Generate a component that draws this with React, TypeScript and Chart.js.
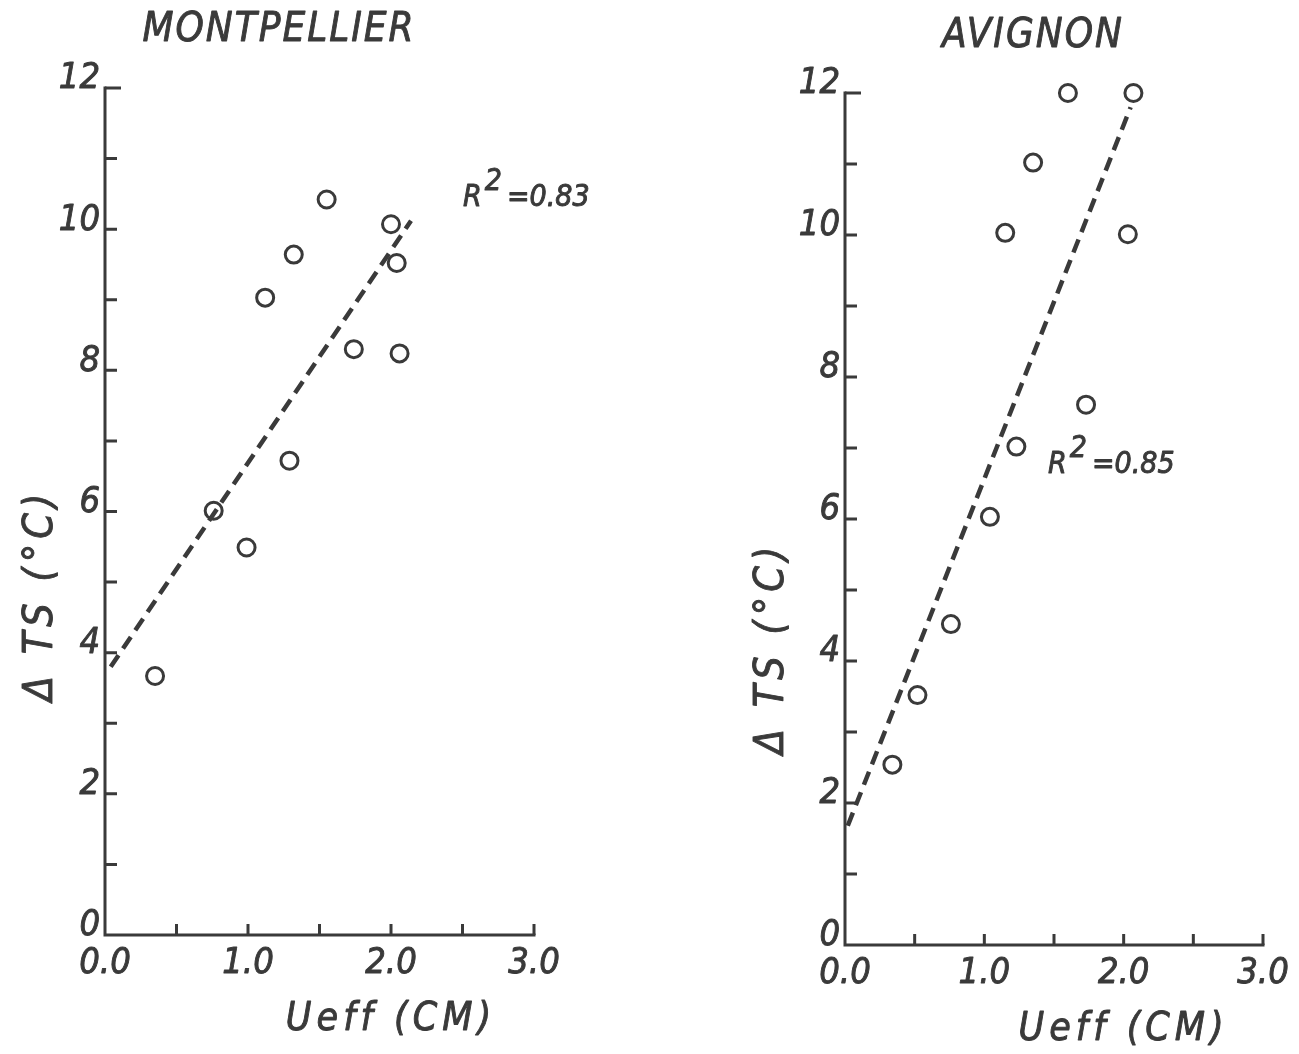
import React, { useEffect, useRef } from "react";
import { Chart, registerables } from "chart.js";

Chart.register(...registerables);

// ---------- data ----------
const montpellierX = [0.35, 0.76, 0.99, 1.12, 1.29, 1.32, 1.55, 1.74, 2.0, 2.04, 2.06];
const montpellierY = [3.67, 6.01, 5.49, 9.03, 6.72, 9.64, 10.42, 8.3, 10.07, 9.52, 8.24];
const montpellierFitX = [0.04, 2.14];
const montpellierFitY = [3.8, 10.12];

const avignonX = [0.34, 0.52, 0.76, 1.04, 1.23, 1.15, 1.35, 1.6, 1.73, 2.03, 2.07];
const avignonY = [2.54, 3.52, 4.52, 6.03, 7.02, 10.03, 11.02, 12.0, 7.61, 10.01, 12.0];
const avignonFitX = [0.02, 2.05];
const avignonFitY = [1.68, 11.8];

const xTickValues = [0, 0.5, 1, 1.5, 2, 2.5, 3];
const xLabelValues = [0, 1, 2, 3];
const xLabelTexts = ["0.0", "1.0", "2.0", "3.0"];
const yTickValues = [1, 2, 3, 4, 5, 6, 7, 8, 9, 10, 11, 12];
const yLabelValues = [0, 2, 4, 6, 8, 10, 12];
const yLabelTexts = ["0", "2", "4", "6", "8", "10", "12"];

const titles = ["MONTPELLIER", "AVIGNON"];
const r2Texts = ["0.83", "0.85"];
const xAxisTitle = "Ueff (CM)";
const yAxisTitle = "\u0394 TS (\u00B0C)";

// ---------- style ----------
const INK = "#3a3a3a";
const FAMILY = '"DejaVu Sans Condensed", "DejaVu Sans", sans-serif';

type PanelCfg = {
  width: number;
  left: number;
  padding: { left: number; right: number; top: number; bottom: number };
  title: string;
  titleX: number;
  titleY: number;
  yTitleX: number;
  yTitleY: number;
  r2: string;
  r2X: number;
  r2Y: number;
  xs: number[];
  ys: number[];
  fitX: number[];
  fitY: number[];
};

function inkText(ctx: CanvasRenderingContext2D, s: string, x: number, y: number) {
  ctx.fillText(s, x, y);
  ctx.strokeText(s, x, y);
}

function makePlugin(cfg: PanelCfg) {
  return {
    id: "paperAxes",
    afterDraw(chart: any) {
      const ctx: CanvasRenderingContext2D = chart.ctx;
      const xs = chart.scales.x;
      const ys = chart.scales.y;
      const x0 = xs.getPixelForValue(0);
      const x3 = xs.getPixelForValue(3);
      const y0 = ys.getPixelForValue(0);
      const y12 = ys.getPixelForValue(12);
      ctx.save();
      ctx.strokeStyle = INK;
      ctx.fillStyle = INK;
      ctx.lineWidth = 3;
      ctx.lineCap = "square";
      ctx.beginPath();
      ctx.moveTo(x0, y12);
      ctx.lineTo(x0, y0);
      ctx.lineTo(x3, y0);
      ctx.stroke();
      ctx.beginPath();
      for (const v of yTickValues) {
        const y = ys.getPixelForValue(v);
        ctx.moveTo(x0, y);
        ctx.lineTo(x0 + (v === 12 ? 16 : 12), y);
      }
      for (const v of xTickValues) {
        if (v === 0) continue;
        const x = xs.getPixelForValue(v);
        ctx.moveTo(x, y0);
        ctx.lineTo(x, y0 - 11);
      }
      ctx.lineCap = "butt";
      ctx.stroke();

      ctx.lineWidth = 0.9;
      ctx.lineJoin = "round";

      // tick labels
      ctx.font = `italic 36px ${FAMILY}`;
      (ctx as any).letterSpacing = "0px";
      ctx.textAlign = "right";
      ctx.textBaseline = "middle";
      yLabelValues.forEach((v, i) => {
        inkText(ctx, yLabelTexts[i], x0 - 5, ys.getPixelForValue(v) - 9);
      });
      ctx.textAlign = "center";
      xLabelValues.forEach((v, i) => {
        inkText(ctx, xLabelTexts[i], xs.getPixelForValue(v), y0 + 29);
      });

      // x-axis title
      ctx.font = `italic 39px ${FAMILY}`;
      (ctx as any).letterSpacing = "5px";
      inkText(ctx, xAxisTitle, xs.getPixelForValue(2.0), y0 + 85);

      // y-axis title
      ctx.save();
      ctx.translate(cfg.yTitleX, cfg.yTitleY);
      ctx.rotate(-Math.PI / 2);
      ctx.font = `italic 41px ${FAMILY}`;
      (ctx as any).letterSpacing = "5px";
      inkText(ctx, yAxisTitle, 0, 0);
      ctx.restore();

      // panel title
      ctx.font = `italic 40px ${FAMILY}`;
      (ctx as any).letterSpacing = "2px";
      inkText(ctx, cfg.title, cfg.titleX, cfg.titleY);

      // R^2 annotation
      ctx.font = `italic 30px ${FAMILY}`;
      (ctx as any).letterSpacing = "0px";
      ctx.textAlign = "left";
      ctx.textBaseline = "alphabetic";
      let x = cfg.r2X;
      inkText(ctx, "R", x, cfg.r2Y);
      x += ctx.measureText("R").width + 3;
      inkText(ctx, "2", x, cfg.r2Y - 16);
      x += ctx.measureText("2").width + 5;
      inkText(ctx, "=" + cfg.r2, x, cfg.r2Y);
      ctx.restore();
    },
  };
}

function Panel({ cfg }: { cfg: PanelCfg }) {
  const ref = useRef<HTMLCanvasElement | null>(null);
  useEffect(() => {
    if (!ref.current) return;
    const points = cfg.xs.map((x, i) => ({ x, y: cfg.ys[i] }));
    const fit = cfg.fitX.map((x, i) => ({ x, y: cfg.fitY[i] }));
    const chart = new Chart(ref.current, {
      type: "scatter",
      data: {
        datasets: [
          {
            data: fit,
            showLine: true,
            borderColor: INK,
            borderWidth: 4.5,
            borderDash: [14, 8],
            pointRadius: 0,
            clip: false,
          } as any,
          {
            data: points,
            pointRadius: 8.5,
            pointBorderWidth: 3,
            borderColor: INK,
            backgroundColor: "rgba(255,255,255,0)",
            clip: false,
          } as any,
        ],
      },
      options: {
        responsive: false,
        animation: false,
        events: [],
        layout: { padding: cfg.padding },
        scales: {
          x: { type: "linear", min: 0, max: 3, display: false },
          y: { type: "linear", min: 0, max: 12, display: false },
        },
        plugins: { legend: { display: false }, tooltip: { enabled: false } },
      },
      plugins: [makePlugin(cfg)],
    });
    return () => chart.destroy();
  }, [cfg]);
  return (
    <canvas
      ref={ref}
      width={cfg.width}
      height={1054}
      style={{ position: "absolute", left: cfg.left, top: 0, display: "block" }}
    />
  );
}

const leftCfg: PanelCfg = {
  width: 650,
  left: 0,
  padding: { left: 105, right: 116, top: 88, bottom: 119 },
  title: titles[0],
  titleX: 279,
  titleY: 31,
  yTitleX: 41,
  yTitleY: 595,
  r2: r2Texts[0],
  r2X: 463,
  r2Y: 206,
  xs: montpellierX,
  ys: montpellierY,
  fitX: montpellierFitX,
  fitY: montpellierFitY,
};

const rightCfg: PanelCfg = {
  width: 649,
  left: 650,
  padding: { left: 195, right: 36, top: 93, bottom: 109 },
  title: titles[1],
  titleX: 383,
  titleY: 37,
  yTitleX: 122,
  yTitleY: 648,
  r2: r2Texts[1],
  r2X: 398,
  r2Y: 473,
  xs: avignonX,
  ys: avignonY,
  fitX: avignonFitX,
  fitY: avignonFitY,
};

export default function App() {
  return (
    <div
      style={{
        position: "absolute",
        left: 0,
        top: 0,
        width: 1299,
        height: 1054,
        background: "#ffffff",
        overflow: "hidden",
      }}
    >
      <Panel cfg={leftCfg} />
      <Panel cfg={rightCfg} />
    </div>
  );
}
